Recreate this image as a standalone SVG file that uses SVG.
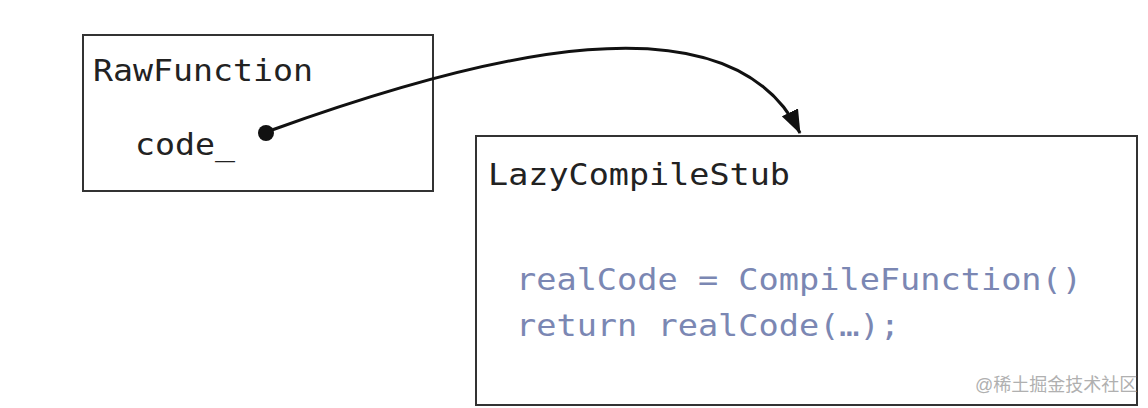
<svg xmlns="http://www.w3.org/2000/svg" width="1148" height="408" viewBox="0 0 1148 408">
  <style>
    .box { fill: #ffffff; stroke: #333333; stroke-width: 2; }
    .mono { font-family: "DejaVu Sans Mono", "Liberation Mono", monospace; font-size: 30px; }
    .title { fill: #222222; }
    .code { fill: #7b87b3; }
    .wm { font-family: "Liberation Sans", "Noto Sans CJK SC", sans-serif; font-size: 18px; fill: #b0b0b0; }
  </style>
  <defs>
    <marker id="arrow" viewBox="0 0 24 18" refX="23" refY="9" markerWidth="24" markerHeight="18" markerUnits="userSpaceOnUse" orient="auto">
      <path d="M0,0 L24,9 L0,18 Z" fill="#111111"/>
    </marker>
  </defs>
  <rect width="1148" height="408" fill="#ffffff"/>
  <g id="rawfunction">
    <rect class="box" x="83" y="35" width="350" height="156"/>
    <text class="mono title" x="93" y="81" textLength="220" lengthAdjust="spacingAndGlyphs">RawFunction</text>
    <text class="mono title" x="135" y="155" textLength="100" lengthAdjust="spacingAndGlyphs">code_</text>
  </g>
  <g id="lazycompilestub">
    <rect class="box" x="476" y="136" width="661" height="269"/>
    <text class="mono title" x="488" y="185" textLength="302" lengthAdjust="spacingAndGlyphs">LazyCompileStub</text>
    <text class="mono code" x="516" y="290" textLength="566" lengthAdjust="spacingAndGlyphs">realCode = CompileFunction()</text>
    <text class="mono code" x="516" y="336" textLength="384" lengthAdjust="spacingAndGlyphs">return realCode(…);</text>
  </g>
  <g id="connectors">
    <circle cx="266" cy="133" r="8" fill="#111111"/>
    <path d="M272,130 C480,55 730,-10 800,133" fill="none" stroke="#111111" stroke-width="3" marker-end="url(#arrow)"/>
  </g>
  <text class="wm" x="975" y="391">@稀土掘金技术社区</text>
</svg>
